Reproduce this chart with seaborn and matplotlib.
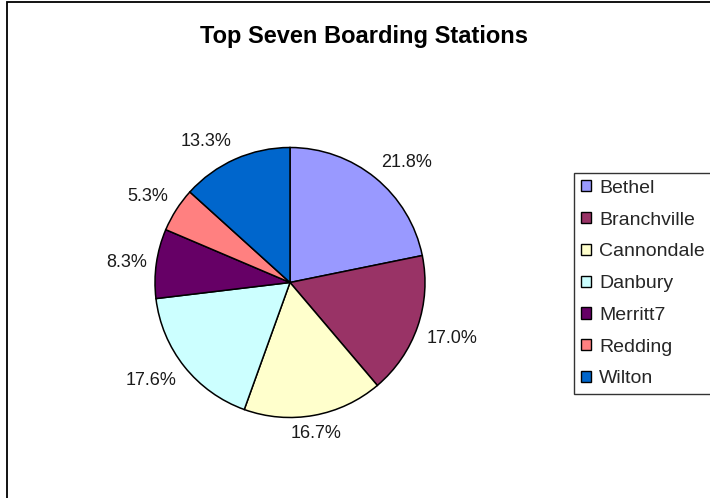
import numpy as np
import matplotlib
matplotlib.use('Agg')
import matplotlib.pyplot as plt
from matplotlib.patches import Rectangle
import seaborn as sns

stations = ['Bethel', 'Branchville', 'Cannondale', 'Danbury', 'Merritt7', 'Redding', 'Wilton']
shares = [21.8, 17.0, 16.7, 17.6, 8.3, 5.3, 13.3]
colors = ['#9999FF', '#993366', '#FFFFCC', '#CCFFFF', '#660066', '#FF8080', '#0066CC']

sns.set_theme(style='white')
plt.rcParams['font.family'] = ['Liberation Sans', 'DejaVu Sans']

W, H = 710, 498
fig = plt.figure(figsize=(W / 100, H / 100), dpi=100)
fig.patch.set_facecolor('white')

# pie centred at (290, 282) px, radius 135 px
cx, cy, r = 290, 282.5, 135
ax = fig.add_axes([(cx - r) / W, (H - cy - r) / H, 2 * r / W, 2 * r / H])

wedges, texts, autotexts = ax.pie(
    shares, colors=colors, startangle=90, counterclock=False,
    autopct='%1.1f%%', pctdistance=1.07,
    wedgeprops=dict(edgecolor='black', linewidth=1.1),
    textprops=dict(fontsize=13, color='#1a1a1a'))
ax.set_xlim(-1, 1)
ax.set_ylim(-1, 1)
ax.set_aspect('equal')
ax.axis('off')

# push labels outward like Excel does
for w, t in zip(wedges, autotexts):
    ang = np.deg2rad((w.theta1 + w.theta2) / 2)
    c, s = np.cos(ang), np.sin(ang)
    t.set_ha('left' if c > 0.3 else ('right' if c < -0.3 else 'center'))
    t.set_va('bottom' if s > 0.3 else ('top' if s < -0.3 else 'center'))

fig.text(364 / W, 1 - 36.5 / H, 'Top Seven Boarding Stations', ha='center', va='center',
         fontsize=17, fontweight='bold', color='black')

leg = fig.legend(wedges, stations, loc='upper left', bbox_to_anchor=(574 / W, 1 - 173 / H),
                 borderaxespad=0, fontsize=14, frameon=True, fancybox=False,
                 handlelength=0.5, handleheight=0.5, handletextpad=0.45,
                 labelspacing=0.76, borderpad=0.35)
leg.get_frame().set_edgecolor('black')
leg.get_frame().set_linewidth(1.0)
for h in leg.legend_handles:
    h.set_edgecolor('black')
    h.set_linewidth(1.0)

# chart area border (clipped on right and bottom)
fig.add_artist(Rectangle((6.5 / W, -0.1), 1.2, 1.1 - 2.5 / H, transform=fig.transFigure,
                         fill=False, edgecolor='black', linewidth=1.3))

fig.savefig('out.png', dpi=100)
